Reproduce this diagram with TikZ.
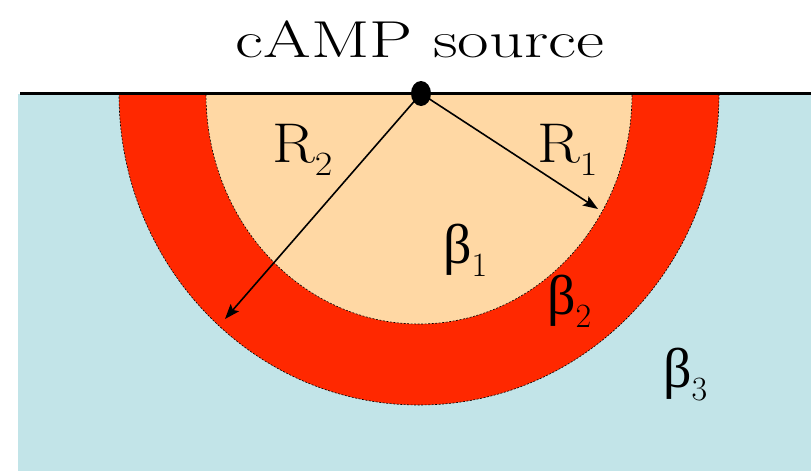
\documentclass[tikz,border=0pt]{standalone}
\usepackage{fontspec}
\newfontfamily\greekfont{Liberation Serif}
\usetikzlibrary{shapes.geometric,arrows.meta}
\definecolor{bgblue}{RGB}{194,228,232}
\definecolor{ringred}{RGB}{255,40,0}
\definecolor{peach}{RGB}{255,216,164}
\tikzset{
  bigtext/.style={font=\fontsize{56}{60}\selectfont, inner sep=0pt, anchor=base west},
  zone/.style={draw=black, line width=0.6pt, dash pattern=on 2pt off 1.5pt},
  radius arrow/.style={line width=1.6pt, -{Stealth[length=15pt,width=11pt,inset=3pt]}},
}
\newcommand{\subtxt}[1]{\raisebox{-13pt}{\fontsize{34}{36}\selectfont #1}}
\newcommand{\bet}{{\greekfont\fontsize{56}{60}\selectfont β}}
\begin{document}
\begin{tikzpicture}[x=1pt,y=-1pt]
\useasboundingbox (0,0) rectangle (811,471);
\fill[white] (0,0) rectangle (811,471);
\fill[bgblue] (18,94) rectangle (811,471);
\begin{scope}
  \clip (0,94) rectangle (811,471);
  \fill[ringred] (419,94) ellipse [x radius=300pt, y radius=311pt];
  \draw[zone] (419,94) ellipse [x radius=300pt, y radius=311pt];
  \fill[peach] (419,94) ellipse [x radius=213pt, y radius=230pt];
  \draw[zone] (419,94) ellipse [x radius=213pt, y radius=230pt];
\end{scope}
\draw[line width=2.6pt] (20,93.5) -- (811,93.5);
\node[ellipse, fill=black, minimum width=20pt, minimum height=25pt, inner sep=0pt] (src) at (421,93.5) {};
\coordinate (r1end) at (598,209);
\coordinate (r2end) at (225,319);
\draw[radius arrow] (src.center) -- (r1end);
\draw[radius arrow] (src.center) -- (r2end);
\node[font=\fontsize{52}{56}\selectfont, inner sep=0pt, anchor=base, xscale=1.32] (title) at (420,57) {cAMP source};
\node[bigtext, xscale=1.12] (R2) at (272,162) {R\subtxt{2}};
\node[bigtext, xscale=1.12] (R1) at (537,162) {R\subtxt{1}};
\node[bigtext] (b1) at (443,263) {\bet\subtxt{1}};
\node[bigtext] (b2) at (547,314) {\bet\subtxt{2}};
\node[bigtext] (b3) at (663,387) {\bet\subtxt{3}};
\end{tikzpicture}
\end{document}
